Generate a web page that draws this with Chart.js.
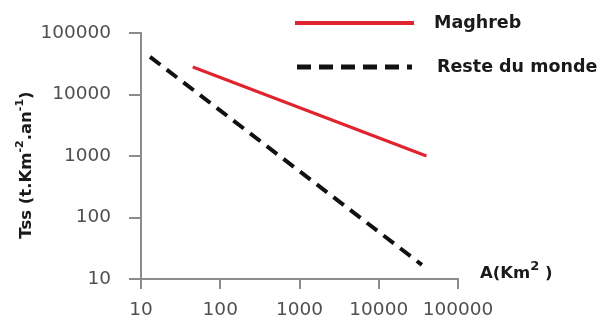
<!DOCTYPE html>
<html>
<head>
<meta charset="utf-8">
<script src="https://cdn.jsdelivr.net/npm/chart.js@4/dist/chart.umd.min.js"></script>
<style>
html,body{margin:0;padding:0;background:#fff;}
#wrap{width:600px;height:320px;position:relative;}
</style>
</head>
<body>
<div id="wrap"><canvas id="c" width="600" height="320"></canvas></div>
<script>
// ---- data ----
const seriesNames = ['Maghreb', 'Reste du monde'];
const maghrebX = [45, 40000];
const maghrebY = [28000, 1000];
const resteX = [13, 35000];
const resteY = [41000, 17];
const xTicks = [10, 100, 1000, 10000, 100000];
const yTicks = [10, 100, 1000, 10000, 100000];
const xTitle = ['A(Km', '2', ' )'];
const yTitle = ['Tss (t.Km', '-2', '.an', '-1', ')'];

const RED = '#e0242f';
const BLACK = '#111111';
const AXIS = '#8c8c8c';
const FONT = "'DejaVu Sans', sans-serif";

function toPts(xs, ys){ return xs.map((x,i)=>({x:x, y:ys[i]})); }

// draw mixed text with superscripts: parts alternate normal / sup
function drawRich(ctx, parts, x, y, size, supSize){
  let cx = x;
  parts.forEach((p, i) => {
    const sup = i % 2 === 1;
    ctx.font = 'bold ' + (sup ? supSize : size) + 'px ' + FONT;
    ctx.fillText(p, cx, sup ? y - size*0.42 : y);
    cx += ctx.measureText(p).width;
  });
  return cx - x;
}
function richWidth(ctx, parts, size, supSize){
  let w = 0;
  parts.forEach((p, i) => {
    ctx.font = 'bold ' + (i%2===1 ? supSize : size) + 'px ' + FONT;
    w += ctx.measureText(p).width;
  });
  return w;
}

const decor = {
  id: 'decor',
  afterDraw(chart){
    const ctx = chart.ctx;
    ctx.save();
    // legend
    const ds = chart.data.datasets;
    const rows = [{y:23, x1:295, x2:414, tx:434}, {y:67, x1:297, x2:412, tx:437}];
    rows.forEach((r, i) => {
      ctx.beginPath();
      ctx.strokeStyle = ds[i].borderColor;
      ctx.lineWidth = i === 0 ? 4 : 5;
      ctx.lineCap = 'butt';
      ctx.setLineDash(i === 0 ? [] : [14, 8]);
      ctx.moveTo(r.x1, r.y); ctx.lineTo(r.x2, r.y);
      ctx.stroke();
      ctx.setLineDash([]);
      ctx.fillStyle = '#1a1a1a';
      ctx.font = 'bold 17.5px ' + FONT;
      ctx.textBaseline = 'middle';
      ctx.textAlign = 'left';
      ctx.fillText(ds[i].label, r.tx, r.y);
    });
    // x axis title
    ctx.fillStyle = '#1a1a1a';
    ctx.textBaseline = 'middle';
    ctx.textAlign = 'left';
    drawRich(ctx, xTitle, 480, 274, 16.5, 13);
    // y axis title (rotated)
    ctx.translate(27, 165);
    ctx.rotate(-Math.PI/2);
    const w = richWidth(ctx, yTitle, 16.5, 11);
    drawRich(ctx, yTitle, -w/2, 0, 16.5, 11);
    ctx.restore();
  }
};

new Chart(document.getElementById('c'), {
  type: 'line',
  data: {
    datasets: [
      { label: seriesNames[0], data: toPts(maghrebX, maghrebY), borderColor: RED, borderWidth: 3,
        pointRadius: 0, fill: false, tension: 0 },
      { label: seriesNames[1], data: toPts(resteX, resteY), borderColor: BLACK, borderWidth: 4,
        borderDash: [13, 8], pointRadius: 0, fill: false, tension: 0 }
    ]
  },
  options: {
    responsive: false,
    animation: false,
    devicePixelRatio: 1,
    layout: { padding: { left: 0, right: 142, top: 33, bottom: 0 } },
    plugins: { legend: { display: false }, tooltip: { enabled: false }, title: { display: false } },
    scales: {
      x: {
        type: 'logarithmic', min: 10, max: 100000,
        afterBuildTicks: s => { s.ticks = xTicks.map(v => ({value: v})); },
        afterFit: s => { s.height = 41; },
        ticks: { callback: v => String(v), color: '#4f4f4f', font: { family: FONT, size: 18.5 },
                 padding: 10, maxRotation: 0, autoSkip: false },
        grid: { drawOnChartArea: false, drawTicks: true, tickLength: 10, color: AXIS, lineWidth: 2 },
        border: { display: true, color: AXIS, width: 2 }
      },
      y: {
        type: 'logarithmic', min: 10, max: 100000,
        afterBuildTicks: s => { s.ticks = yTicks.map(v => ({value: v})); },
        afterFit: s => { s.width = 141; },
        ticks: { callback: v => String(v), color: '#4f4f4f', font: { family: FONT, size: 18.5 },
                 padding: 18, autoSkip: false },
        grid: { drawOnChartArea: false, drawTicks: true, tickLength: 12, color: AXIS, lineWidth: 2 },
        border: { display: true, color: AXIS, width: 2 }
      }
    }
  },
  plugins: [decor]
});
</script>
</body>
</html>
